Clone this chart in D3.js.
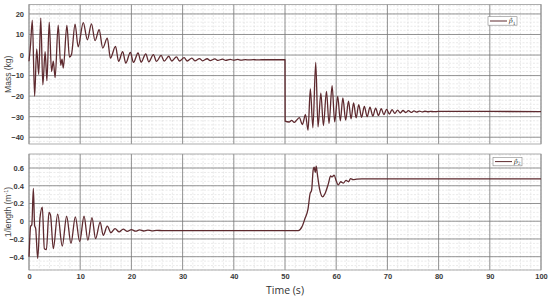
<!DOCTYPE html>
<html>
<head>
<meta charset="utf-8">
<script src="https://cdn.jsdelivr.net/npm/d3@7"></script>
<style>
  body { margin: 0; background: #fff; }
  svg { display: block; }
  .tick text { font-family: "Liberation Sans", Arial, sans-serif; font-size: 7.5px; font-weight: bold; fill: #3a3a3a; }
</style>
</head>
<body>
<svg width="550" height="297"></svg>
<script>
// mass estimate p1 (kg) - peaks and troughs
var massT = [0, 0.3, 0.65, 1.1, 1.5, 1.9, 2.3, 2.7, 3.15, 3.5, 3.95, 4.4, 4.75, 5.1, 5.7, 6.2, 6.45, 6.7, 7.4, 7.9, 8.3,
  9.0, 9.6, 10.6, 11.4, 12.2, 12.9, 13.7, 14.4, 15.3, 15.9, 16.9, 17.5, 18.3, 18.9, 19.8, 20.4, 21.3, 21.9,
  22.8, 23.4, 24.3, 24.9, 25.8, 26.4, 27.3, 27.9, 28.8, 29.4, 30.3, 30.9, 31.8, 32.4, 33.3, 33.9, 34.8, 35.4,
  36.3, 36.9, 37.8, 38.4, 39.3, 39.9, 40.8, 41.4, 42.3, 42.9, 43.8, 44.4, 45.5, 50.0,
  50.03, 50.8, 51.3, 51.8, 52.3, 52.8, 53.4, 54.0, 54.5, 54.95, 55.45, 56.0, 56.45, 57.0, 57.5, 58.1, 58.6,
  59.2, 59.7, 60.3, 60.8, 61.3, 61.85, 62.4, 62.9, 63.4, 63.9, 64.4, 64.95, 65.5, 66.05, 66.6, 67.15, 67.7,
  68.25, 68.8, 69.3, 69.85, 70.4, 70.9, 71.45, 72.0, 72.5, 73.05, 73.6, 74.1, 74.65, 75.2, 75.7, 76.25,
  76.8, 77.3, 77.85, 78.4, 79.0, 80.0, 100];
var massV = [-3, 5, 17, -20, 3, -9.5, 18, -14.5, 1.7, -12.5, 16, -8, -3, -11, 14.5, -5, -2, -6.3, 14.4, -1, 0.3,
  15, 4, 15.8, 7.4, 15.2, 7, 12.3, 3.4, 8.2, -1.5, 4.2, -3.1, 1.7, -3.9, 1.3, -3.6, 1.0, -3.5,
  0.6, -3.3, 0.2, -3.1, -0.2, -3.0, -0.6, -2.9, -0.9, -2.9, -1.3, -2.9, -1.5, -2.8, -1.7, -2.8, -1.8, -2.7,
  -1.9, -2.6, -2.0, -2.6, -2.1, -2.5, -2.15, -2.45, -2.2, -2.4, -2.25, -2.35, -2.3, -2.3,
  -32.2, -32.6, -31.8, -32.8, -31.6, -30.5, -33.8, -29, -36.6, -16.5, -35.4, -3.6, -35, -18.5, -34.3, -17.7, -33.3,
  -14.9, -32.5, -20.1, -32, -20.9, -31.7, -22.5, -31, -23.3, -30.6, -24.1, -30.3, -25, -30, -25.4, -29.7, -25.8,
  -29.4, -26.1, -29.0, -26.4, -28.7, -26.6, -28.4, -26.8, -28.2, -27.0, -28.0, -27.1, -27.9, -27.2, -27.75, -27.3,
  -27.65, -27.35, -27.6, -27.4, -27.55, -27.45, -27.5];

// inverse length estimate p2 (1/m)
var invT = [0, 0.15, 0.3, 0.55, 0.85, 1.1, 1.3, 1.7, 2.15, 2.6, 3.0, 3.4, 3.9, 4.2, 4.75, 5.6, 6.5, 7.35, 8.2, 9.05,
  9.9, 10.75, 11.5, 12.3, 13.0, 13.9, 14.5, 15.3, 16.0, 16.8, 17.6, 18.4, 19.2, 20.0, 20.8, 21.6, 22.4, 23.2,
  24, 25, 26, 28, 52.6, 53.3, 53.9, 54.5, 54.9, 55.2, 55.5, 55.7, 55.9, 56.1, 56.3, 56.8, 57.35, 57.8, 58.5,
  58.9, 59.2, 59.6, 60.0, 60.4, 60.9, 61.4, 61.9, 62.4, 62.8, 63.3, 64, 65, 100];
var invV = [-0.4, -0.2, -0.06, -0.04, 0.37, -0.05, -0.08, -0.42, 0.04, 0.16, -0.31, -0.32, 0.10, 0.07, -0.31, 0.08,
  -0.28, 0.056, -0.25, 0.05, -0.23, 0.056, -0.215, 0.04, -0.196, -0.01, -0.16, -0.056, -0.13, -0.083, -0.12,
  -0.09, -0.115, -0.095, -0.112, -0.098, -0.11, -0.1, -0.108, -0.103, -0.106, -0.105, -0.105, -0.064, 0.03,
  0.14, 0.31, 0.35, 0.576, 0.61, 0.55, 0.62, 0.54, 0.35, 0.275, 0.31, 0.43, 0.51, 0.5, 0.52, 0.455, 0.41, 0.445,
  0.43, 0.46, 0.445, 0.48, 0.47, 0.475, 0.478, 0.478];

var xTicks = [0, 10, 20, 30, 40, 50, 60, 70, 80, 90, 100];
var massTicks = [20, 10, 0, -10, -20, -30, -40];
var invTicks = [0.6, 0.4, 0.2, 0, -0.2, -0.4];

var svg = d3.select("svg");
var lineColor = "#5e2a2f";

var x = d3.scaleLinear().domain([0, 100]).range([29, 541]);

function panel(opt) {
  var y = d3.scaleLinear().domain(opt.domain).range([opt.bottom, opt.top]);
  var g = svg.append("g");

  g.append("rect")
    .attr("x", x(0)).attr("y", opt.top)
    .attr("width", x(100) - x(0)).attr("height", opt.bottom - opt.top)
    .attr("fill", "#fff");

  // minor grid
  var minorX = d3.range(0, 100.001, 2);
  var minorY = d3.range(Math.ceil(opt.domain[0] / opt.minor) * opt.minor, opt.domain[1], opt.minor);
  g.selectAll(".mx").data(minorX).enter().append("line")
    .attr("x1", d => x(d)).attr("x2", d => x(d))
    .attr("y1", opt.top).attr("y2", opt.bottom)
    .attr("stroke", "#dcdcdc").attr("stroke-width", 0.6).attr("stroke-dasharray", "2,1.5");
  g.selectAll(".my").data(minorY).enter().append("line")
    .attr("x1", x(0)).attr("x2", x(100))
    .attr("y1", d => y(d)).attr("y2", d => y(d))
    .attr("stroke", "#dcdcdc").attr("stroke-width", 0.6).attr("stroke-dasharray", "2,1.5");

  // major grid
  g.selectAll(".gx").data(xTicks).enter().append("line")
    .attr("x1", d => x(d)).attr("x2", d => x(d))
    .attr("y1", opt.top).attr("y2", opt.bottom)
    .attr("stroke", "#7a7a7a").attr("stroke-width", 0.8);
  g.selectAll(".gy").data(opt.ticks).enter().append("line")
    .attr("x1", x(0)).attr("x2", x(100))
    .attr("y1", d => y(d)).attr("y2", d => y(d))
    .attr("stroke", "#7a7a7a").attr("stroke-width", 0.8);

  g.append("rect")
    .attr("x", x(0)).attr("y", opt.top)
    .attr("width", x(100) - x(0)).attr("height", opt.bottom - opt.top)
    .attr("fill", "none").attr("stroke", "#9a9a9a").attr("stroke-width", 0.8);

  var yAxis = d3.axisLeft(y).tickValues(opt.ticks).tickSize(0).tickPadding(5)
    .tickFormat(opt.fmt);
  g.append("g").attr("transform", "translate(" + x(0) + ",0)").call(yAxis)
    .call(s => s.select(".domain").remove());

  if (opt.showX) {
    var xAxis = d3.axisBottom(x).tickValues(xTicks).tickSize(0).tickPadding(4);
    g.append("g").attr("transform", "translate(0," + opt.bottom + ")").call(xAxis)
      .call(s => s.select(".domain").remove());
  }

  var pts = opt.t.map((t, i) => [t, opt.v[i]]);
  var line = d3.line().x(d => x(d[0])).y(d => y(d[1])).curve(d3.curveMonotoneX);
  g.append("path").datum(pts)
    .attr("d", line)
    .attr("fill", "none").attr("stroke", lineColor).attr("stroke-width", 1.3)
    .attr("stroke-linejoin", "round");

  // y label
  var lab = g.append("text")
    .attr("transform", "translate(11," + ((opt.top + opt.bottom) / 2) + ") rotate(-90)")
    .attr("text-anchor", "middle")
    .attr("font-family", "'Liberation Sans', Arial, sans-serif")
    .attr("font-size", 8.5).attr("fill", "#444");
  opt.label(lab);

  // legend
  var lg = g.append("g").attr("transform", "translate(" + opt.legend[0] + "," + opt.legend[1] + ")");
  lg.append("rect").attr("width", 29).attr("height", 8.5)
    .attr("fill", "#fff").attr("stroke", "#888").attr("stroke-width", 0.6);
  lg.append("line").attr("x1", 2).attr("x2", 19).attr("y1", 4.3).attr("y2", 4.3)
    .attr("stroke", lineColor).attr("stroke-width", 1);
  var lt = lg.append("text").attr("x", 20.5).attr("y", 6.5)
    .attr("font-family", "'DejaVu Serif', serif").attr("font-style", "italic")
    .attr("font-size", 6.5).attr("fill", "#333");
  lt.append("tspan").text("p\u0302");
  lt.append("tspan").attr("font-size", 4.5).attr("font-style", "normal").attr("dy", 1.5).text(opt.sub);
}

panel({
  t: massT, v: massV, domain: [-43.3, 24.6], top: 4.5, bottom: 144,
  ticks: massTicks, minor: 2, fmt: d3.format("d"), showX: false,
  legend: [488, 16.7], sub: "1",
  label: t => t.text("Mass (kg)")
});

panel({
  t: invT, v: invV, domain: [-0.55, 0.758], top: 154, bottom: 270,
  ticks: invTicks, minor: 0.05, fmt: d => d === 0 ? "0" : d3.format(".1f")(d), showX: true,
  legend: [493, 157.3], sub: "2",
  label: t => {
    t.append("tspan").text("1/length (m");
    t.append("tspan").attr("font-size", 5.5).attr("dy", -3).text("-1");
    t.append("tspan").attr("dy", 3).text(")");
  }
});

svg.append("text")
  .attr("x", x(50)).attr("y", 294)
  .attr("text-anchor", "middle")
  .attr("font-family", "'Open Sans', sans-serif")
  .attr("font-size", 10.5).attr("fill", "#333")
  .text("Time (s)");
</script>
</body>
</html>
